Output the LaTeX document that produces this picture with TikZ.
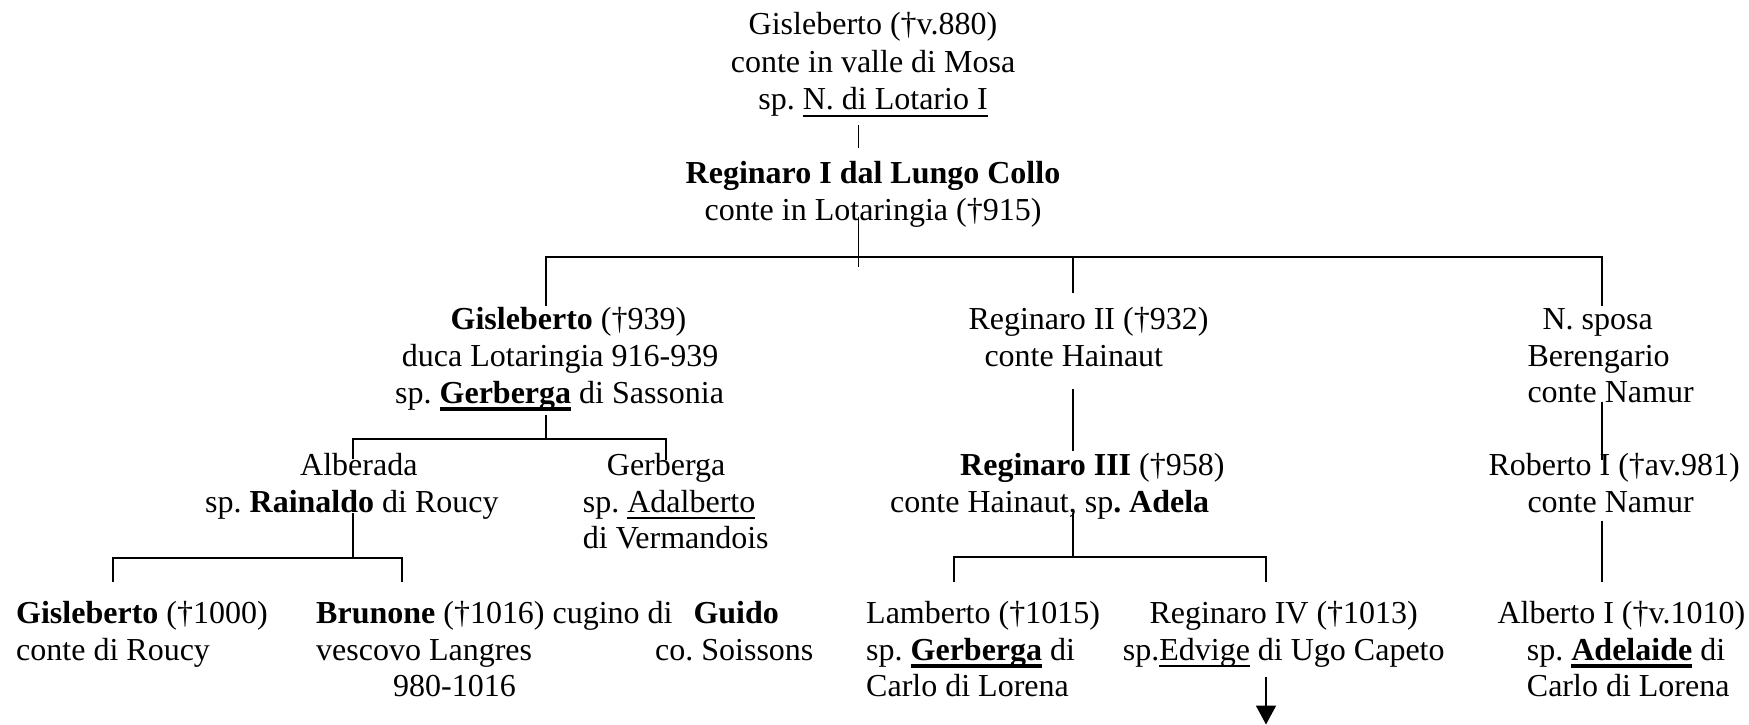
\documentclass[tikz,border=0pt]{standalone}
\usepackage{fontspec}
\setmainfont{Liberation Serif}
\usetikzlibrary{arrows.meta}
\frenchspacing
\newlength\ulw
\newcommand\ulthin[1]{\settowidth\ulw{#1}\rlap{\rule[-7pt]{\ulw}{1.7pt}}#1}
\newcommand\ulthick[1]{\settowidth\ulw{#1}\rlap{\rule[-7.5pt]{\ulw}{3.4pt}}#1}
\begin{document}
\frenchspacing
\begin{tikzpicture}[x=1pt,y=-1pt,
  txt/.style={inner sep=0pt, anchor=base west, font=\fontsize{32}{37}\selectfont\frenchspacing},
  txc/.style={txt, anchor=base},
  link/.style={line width=1.9pt}]
\useasboundingbox[fill=white] (0,0) rectangle (1749,725);

% ---- top
\node[txc] (g880a) at (873,35) {Gisleberto (†v.880)};
\node[txc] (g880b) at (873,72.5) {conte in valle di Mosa};
\node[txc] (g880c) at (873,110) {sp. \ulthin{N. di Lotario I}};
\node[txc] (r1a) at (873,183) {\textbf{Reginaro I dal Lungo Collo}};
\node[txc] (r1b) at (873,220.5) {conte in Lotaringia (†915)};

% ---- row C
\node[txt] (g939a) at (450.5,329.3) {\textbf{Gisleberto} (†939)};
\node[txt] (g939b) at (401.7,366.3) {duca Lotaringia 916-939};
\node[txt] (g939c) at (395,403.3) {sp. \ulthick{\textbf{Gerberga}} di Sassonia};
\node[txt] (r2a) at (968.3,329.3) {Reginaro II (†932)};
\node[txt] (r2b) at (984.3,366) {conte Hainaut};
\node[txt] (nsa) at (1542.3,329.3) {N. sposa};
\node[txt] (nsb) at (1527.3,366) {Berengario};
\node[txt] (nsc) at (1527.3,402.5) {conte Namur};

% ---- row D
\node[txt] (alba) at (300,475) {Alberada};
\node[txt] (albb) at (205,512.5) {sp. \textbf{Rainaldo} di Roucy};
\node[txt] (gera) at (606.7,475) {Gerberga};
\node[txt] (gerb) at (582.7,512) {sp. \ulthin{Adalberto}};
\node[txt] (gerc) at (582.7,548.5) {di Vermandois};
\node[txt] (r3a) at (960,475) {\textbf{Reginaro III} (†958)};
\node[txt] (r3b) at (890,512.5) {conte Hainaut, sp\textbf{. Adela}};
\node[txt] (roba) at (1488.3,475) {Roberto I (†av.981)};
\node[txt] (robb) at (1527.3,512.5) {conte Namur};

% ---- row E
\node[txt] (g1000a) at (16,623.3) {\textbf{Gisleberto} (†1000)};
\node[txt] (g1000b) at (16,660) {conte di Roucy};
\node[txt] (bruna) at (316,623.3) {\textbf{Brunone} (†1016) cugino di};
\node[txt] (guido) at (693.3,623.3) {\textbf{Guido}};
\node[txt] (brunb) at (316,660) {vescovo Langres};
\node[txt] (soiss) at (655,660) {co. Soissons};
\node[txt] (brunc) at (393,696.7) {980-1016};
\node[txt] (lama) at (866,623.3) {Lamberto (†1015)};
\node[txt] (lamb) at (866,660) {sp. \ulthick{\textbf{Gerberga}} di};
\node[txt] (lamc) at (866,696.7) {Carlo di Lorena};
\node[txt] (r4a) at (1149.3,623.3) {Reginaro IV (†1013)};
\node[txt] (r4b) at (1122.7,660) {sp.\ulthin{Edvige} di Ugo Capeto};
\node[txt] (alta) at (1497.3,623.3) {Alberto I (†v.1010)};
\node[txt] (altb) at (1526.7,660) {sp. \ulthick{\textbf{Adelaide}} di};
\node[txt] (altc) at (1526.7,696.7) {Carlo di Lorena};

% ---- junction coordinates
\coordinate (c0a) at (858.5,125);
\coordinate (c0b) at (858.5,148);
\coordinate (c1a) at (858.5,217);
\coordinate (c1b) at (858.5,267);
\coordinate (hL) at (545.7,257);
\coordinate (hM) at (1073.3,257);
\coordinate (hR) at (1601.7,257);
\coordinate (dL) at (545.7,306);
\coordinate (dM) at (1073.3,293.3);
\coordinate (dR) at (1601.7,306);

\coordinate (g9a) at (545.7,415);
\coordinate (g9b) at (545.7,439.3);
\coordinate (g9L) at (353.3,439.3);
\coordinate (g9R) at (666,439.3);
\coordinate (g9Ld) at (353.3,459.3);
\coordinate (g9Rd) at (666,460);

\coordinate (alA) at (353.3,513);
\coordinate (alB) at (353.3,558.3);
\coordinate (alL) at (113.3,558.3);
\coordinate (alR) at (401.7,558.3);
\coordinate (alLd) at (113.3,581.7);
\coordinate (alRd) at (401.7,581.7);

\coordinate (r2x) at (1073.3,389.3);
\coordinate (r2y) at (1073.3,450.7);
\coordinate (r3x) at (1073.3,513);
\coordinate (r3y) at (1073.3,557.3);
\coordinate (r3L) at (954,557.3);
\coordinate (r3R) at (1266,557.3);
\coordinate (r3Ld) at (954,581.7);
\coordinate (r3Rd) at (1266,581.7);

\coordinate (nsx) at (1601.7,401.7);
\coordinate (nsy) at (1601.7,460);
\coordinate (rbx) at (1601.7,520.7);
\coordinate (rby) at (1601.7,581.7);

\coordinate (r4x) at (1266,676.7);
\coordinate (r4y) at (1266,724.5);

% ---- connectors
\draw[link] (c0a) -- (c0b);
\draw[link] (c1a) -- (c1b);
\draw[link] (dL) -- (hL) -- (hR) -- (dR);
\draw[link] (hM) -- (dM);

\draw[link] (g9a) -- (g9b);
\draw[link] (g9Ld) -- (g9L) -- (g9R) -- (g9Rd);
\draw[link] (alA) -- (alB);
\draw[link] (alLd) -- (alL) -- (alR) -- (alRd);

\draw[link] (r2x) -- (r2y);
\draw[link] (r3x) -- (r3y);
\draw[link] (r3Ld) -- (r3L) -- (r3R) -- (r3Rd);

\draw[link] (nsx) -- (nsy);
\draw[link] (rbx) -- (rby);

\draw[link, -{Triangle[width=20pt,length=19pt]}] (r4x) -- (r4y);
\end{tikzpicture}
\end{document}
